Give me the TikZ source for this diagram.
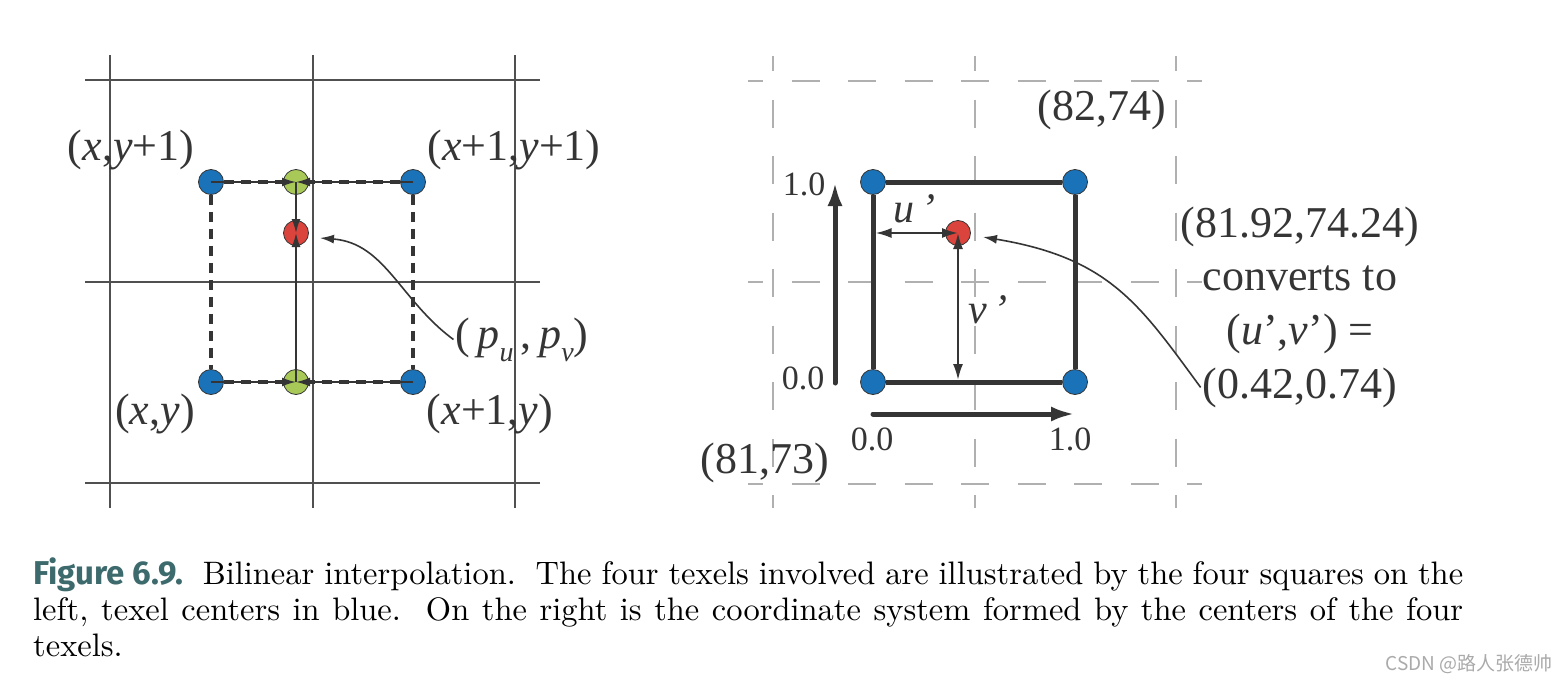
\documentclass[tikz,border=0pt]{standalone}
\usepackage{fontspec}
\newfontfamily\tfont{Liberation Serif}
\newfontfamily\figfont{Fira Sans}
\newfontfamily\capfont{lmroman10-regular.otf}
\newfontfamily\cjkfont{Noto Sans CJK SC}
\usetikzlibrary{arrows.meta}
\definecolor{dotblue}{HTML}{1A72B9}
\definecolor{dotgreen}{HTML}{A8C957}
\definecolor{dotred}{HTML}{DA443D}
\definecolor{linec}{HTML}{353535}
\definecolor{gridc}{HTML}{505050}
\definecolor{dgridc}{HTML}{B0B0B0}
\definecolor{capteal}{HTML}{3D6A6C}
\definecolor{wmark}{HTML}{AAAAAA}
\begin{document}
\begin{tikzpicture}[x=1pt,y=-1pt,
  dot/.style={circle,draw=linec,line width=0.8pt,minimum size=25pt,inner sep=0pt},
  bdot/.style={dot,fill=dotblue},
  gdot/.style={dot,fill=dotgreen},
  rdot/.style={dot,fill=dotred},
  gridl/.style={draw=gridc,line width=1.1pt},
  dgrid/.style={draw=dgridc,line width=1.4pt,dash pattern=on 28pt off 28.5pt,dash phase=13pt},
  thickdash/.style={draw=linec,line width=4pt,dash pattern=on 10pt off 7pt},
  thinarr/.style={draw=linec,line width=1.8pt,-{Latex[length=14pt,width=9pt]}},
  midarr/.style={draw=linec,line width=2pt,{Latex[length=16pt,width=10pt]}-{Latex[length=16pt,width=10pt]}},
  bigarr/.style={draw=linec,line width=5pt,line cap=round,-{Latex[length=24pt,width=15pt]}},
  sq/.style={draw=linec,line width=5pt},
  curvarr/.style={draw=linec,line width=1.6pt,-{Latex[length=14pt,width=9pt]}},
  lab/.style={font=\tfont\fontsize{44}{50}\selectfont,inner sep=0pt,text=linec,anchor=base},
  slab/.style={font=\tfont\fontsize{34}{38}\selectfont,inner sep=0pt,text=linec,anchor=base},
  captext/.style={font=\capfont\fontsize{32.5}{36}\selectfont,inner sep=0pt,anchor=base west}]
\useasboundingbox (0,0) rectangle (1568,680);
\fill[white] (0,0) rectangle (1568,680);

% ---------- left diagram: grid ----------
\foreach \yy in {80,282,483} \draw[gridl] (85,\yy) -- (540,\yy);
\foreach \xx in {110,313,515} \draw[gridl] (\xx,55) -- (\xx,508);

% dots
\node[bdot] (b1) at (211,182) {};
\node[bdot] (b2) at (413,182) {};
\node[bdot] (b3) at (211,382) {};
\node[bdot] (b4) at (413,382) {};
\node[gdot] (g1) at (296,182) {};
\node[gdot] (g2) at (296,382) {};
\node[rdot] (r1) at (296,233) {};

% dashed lines
\draw[thickdash] (b1.east) -- (g1.west);
\draw[thickdash] (b2.west) -- (g1.east);
\draw[thickdash] (b3.east) -- (g2.west);
\draw[thickdash] (b4.west) -- (g2.east);
\draw[thickdash] (b1.south) -- (b3.north);
\draw[thickdash] (b2.south) -- (b4.north);

% thin arrows
\draw[thinarr] (b1.center) -- (g1.center);
\draw[thinarr] (b2.center) -- (g1.center);
\draw[thinarr] (b3.center) -- (g2.center);
\draw[thinarr] (b4.center) -- (g2.center);
\draw[thinarr] (g1.center) -- (r1.center);
\draw[thinarr] (g2.center) -- (r1.center);

% labels
\node[lab] (l1) at (131,160) {(\textit{x},\textit{y}+1)};
\node[lab] (l2) at (514,160) {(\textit{x}+1,\textit{y}+1)};
\node[lab] (l3) at (155,424) {(\textit{x},\textit{y})};
\node[lab] (l4) at (490,424) {(\textit{x}+1,\textit{y})};
\node[lab,inner sep=2pt] (pl) at (522,348) {(\,\textit{p}\raisebox{-0.3em}{\fontsize{28}{30}\selectfont\textit{u}}\,,\,\textit{p}\raisebox{-0.3em}{\fontsize{28}{30}\selectfont\textit{v}})};
\coordinate (pend) at (320,238);
\draw[curvarr] (pl.west) .. controls (400,300) and (385,243) .. (pend);

% ---------- right diagram ----------
\foreach \yy in {81,282,484} \draw[dgrid] (748,\yy) -- (1202,\yy);
\foreach \xx in {773,975,1176} \draw[dgrid] (\xx,56) -- (\xx,508);

\node[bdot] (c1) at (873,182) {};
\node[bdot] (c2) at (1075,182) {};
\node[bdot] (c3) at (873,382) {};
\node[bdot] (c4) at (1075,382) {};
\draw[sq] (c1.east) -- (c2.west);
\draw[sq] (c3.east) -- (c4.west);
\draw[sq] (c1.south) -- (c3.north);
\draw[sq] (c2.south) -- (c4.north);
\node[rdot] (r2) at (958,233) {};

\coordinate (ul) at (875.5,233);
\coordinate (vb) at (958,380);
\draw[midarr] (ul) -- (r2.center);
\draw[midarr] (r2.center) -- (vb);
\node[lab,anchor=base west,font=\tfont\itshape\fontsize{42}{44}\selectfont] (up) at (893,222) {u\,’};
\node[lab,anchor=base west,font=\tfont\itshape\fontsize{42}{44}\selectfont] (vp) at (968,323) {v\,’};

% axes
\coordinate (ya) at (835,383);
\coordinate (yb) at (835,182);
\coordinate (xa) at (873,414);
\coordinate (xb) at (1075,414);
\draw[bigarr] (ya) -- (yb);
\draw[bigarr] (xa) -- (xb);
\node[slab] (t1) at (804,195) {1.0};
\node[slab] (t2) at (803,389) {0.0};
\node[slab] (t3) at (872,450) {0.0};
\node[slab] (t4) at (1070,450) {1.0};

\node[lab] (k1) at (1102,120) {(82,74)};
\node[lab] (k2) at (765,473) {(81,73)};

\node[lab] (m1) at (1300,237) {(81.92,74.24)};
\node[lab] (m2) at (1300,290) {converts to};
\node[lab] (m3) at (1300,344) {(\textit{u}’,\textit{v}’) =};
\node[lab,inner sep=2pt] (m4) at (1300,398) {(0.42,0.74)};
\coordinate (rend) at (983,237);
\draw[curvarr] (m4.west) .. controls (1140,305) and (1110,258) .. (rend);

% ---------- caption ----------
\node[captext] (cp1) at (33,584) {\makebox[1430pt][s]{\mbox{\figfont\bfseries\fontsize{33}{36}\selectfont\color{capteal}Figure~6.9.}\ \ Bilinear interpolation.\ \ The four texels involved are illustrated by the four squares on the}};
\node[captext] (cp2) at (33,620) {\makebox[1430pt][s]{left, texel centers in blue.\ \ On the right is the coordinate system formed by the centers of the four}};
\node[captext] (cp3) at (33,656) {texels.};
\node[font=\cjkfont\fontsize{19}{22}\selectfont,text=wmark,inner sep=0pt,anchor=base east] (wm) at (1553,670) {CSDN @路人张德帅};
\end{tikzpicture}
\end{document}
